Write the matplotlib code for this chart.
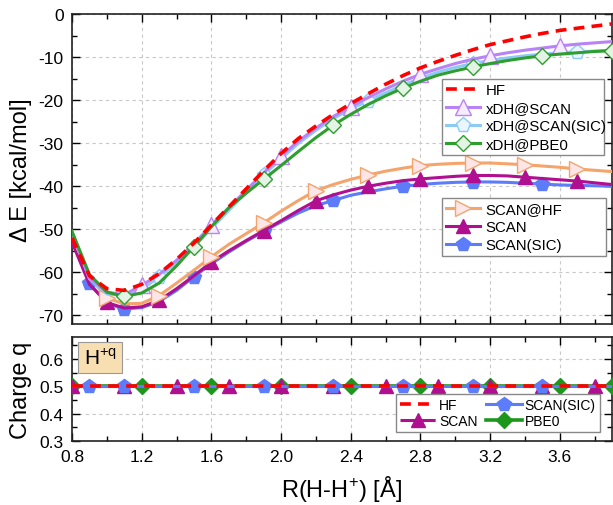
import numpy as np
import matplotlib
matplotlib.use("Agg")
import matplotlib.pyplot as plt
from matplotlib.ticker import MultipleLocator

plt.rcParams['font.family'] = ['Liberation Sans', 'DejaVu Sans']
plt.rcParams['mathtext.fontset'] = 'custom'
plt.rcParams['mathtext.rm'] = 'Liberation Sans'
plt.rcParams['axes.unicode_minus'] = False

# bond distance grid (Angstrom)
R = [0.8, 0.9, 1.0, 1.1, 1.2, 1.3, 1.4, 1.5, 1.6, 1.7, 1.8, 1.9, 2.0, 2.1, 2.2, 2.3,
     2.4, 2.5, 2.6, 2.7, 2.8, 2.9, 3.0, 3.1, 3.2, 3.3, 3.4, 3.5, 3.6, 3.7, 3.8, 3.9]

# binding energies (kcal/mol)
hf = [-52.0, -60.8, -63.8, -64.2, -62.8, -60.3, -57.0, -53.2, -49.0, -44.8, -40.6, -36.4,
      -32.4, -28.9, -26.0, -23.3, -20.8, -18.5, -16.3, -14.3, -12.5, -11.0, -9.6, -8.3,
      -7.1, -6.2, -5.3, -4.5, -3.8, -3.3, -2.8, -2.3]
xdh_scan = [-51.0, -61.3, -64.6, -65.2, -63.0, -60.5, -57.2, -53.4, -49.0, -45.0, -40.9, -36.9,
            -33.0, -29.5, -26.5, -23.8, -21.5, -19.4, -17.4, -15.6, -14.0, -12.7, -11.5, -10.5,
            -9.7, -9.0, -8.4, -7.9, -7.4, -7.0, -6.7, -6.4]
xdh_scan_sic = [-50.5, -61.5, -65.0, -65.5, -64.0, -61.0, -57.7, -54.0, -49.8, -45.6, -41.4, -37.4,
                -33.6, -30.0, -27.0, -24.3, -22.0, -20.2, -18.3, -16.5, -14.9, -13.5, -12.4, -11.5,
                -10.8, -10.2, -9.7, -9.3, -9.0, -8.8, -8.6, -8.4]
xdh_pbe0 = [-50.5, -60.5, -64.6, -65.6, -64.8, -62.5, -58.5, -54.0, -49.4, -45.0, -41.6, -38.4,
            -35.2, -31.9, -28.7, -25.8, -23.3, -21.0, -19.0, -17.2, -15.6, -14.2, -13.2, -12.3,
            -11.5, -10.8, -10.2, -9.7, -9.3, -9.0, -8.7, -8.5]
scan_hf = [-51.5, -61.0, -66.0, -67.3, -67.2, -65.4, -62.5, -59.5, -56.4, -53.5, -51.0, -48.5,
           -45.8, -43.3, -41.0, -39.6, -38.4, -37.4, -36.5, -35.8, -35.2, -34.9, -34.7, -34.6,
           -34.6, -34.8, -35.0, -35.3, -35.6, -36.0, -36.3, -36.6]
scan = [-53.0, -62.8, -67.0, -68.3, -68.0, -66.5, -63.8, -60.8, -57.6, -55.0, -52.6, -50.3,
        -48.0, -45.6, -43.4, -42.0, -40.9, -40.0, -39.3, -38.7, -38.3, -38.0, -37.7, -37.5,
        -37.5, -37.6, -37.9, -38.2, -38.5, -38.8, -39.2, -39.6]
scan_sic = [-52.5, -62.5, -67.2, -68.5, -68.2, -66.8, -64.2, -61.0, -58.0, -55.3, -52.8, -50.5,
            -48.3, -46.2, -44.5, -43.3, -42.1, -41.3, -40.6, -40.0, -39.6, -39.3, -39.1, -39.0,
            -39.0, -39.1, -39.3, -39.5, -39.7, -39.8, -39.9, -40.0]

# charge on H (bottom panel)
q_hf = [0.5] * len(R)
q_scan = [0.5] * len(R)
q_scan_sic = [0.5] * len(R)
q_pbe0 = [0.5] * len(R)

fig = plt.figure(figsize=(6.13, 5.06), dpi=100)
ax1 = fig.add_axes([0.1175, 0.3577, 0.881, 0.6126])
ax2 = fig.add_axes([0.1175, 0.1265, 0.881, 0.2055])

lw = 2.2
ax1.plot(R, scan_sic, color='#5C7CFA', lw=lw, marker='p', ms=10.5, mfc='#5C7CFA', mec='#5C7CFA',
         markevery=[1, 3, 7, 11, 15, 19, 23, 27], label='SCAN(SIC)', zorder=3)
ax1.plot(R, scan, color='#B0108F', lw=lw, marker='^', ms=10, mfc='#B0108F', mec='#B0108F',
         markevery=[2, 5, 8, 11, 14, 17, 20, 23, 26, 29], label='SCAN', zorder=4)
ax1.plot(R, scan_hf, color='#F5A46C', lw=lw, marker='>', ms=11, mfc='#FDE6E8', mec='#F5A46C', mew=1,
         markevery=[2, 5, 8, 11, 14, 17, 20, 23, 26, 29], label='SCAN@HF', zorder=5)
ax1.plot(R, xdh_pbe0, color='#2E9E2E', lw=lw, marker='D', ms=8.5, mfc='#E4F4E4', mec='#2E9E2E', mew=1,
         markevery=[3, 7, 11, 15, 19, 23, 27, 31], label='xDH@PBE0', zorder=6)
ax1.plot(R, xdh_scan_sic, color='#8CCBF5', lw=lw, marker='p', ms=11, mfc='#EAF6FF', mec='#8CCBF5', mew=1,
         markevery=[5, 11, 17, 23, 29], label='xDH@SCAN(SIC)', zorder=5)
ax1.plot(R, xdh_scan, color='#B983F5', lw=lw, marker='^', ms=11, mfc='#F5EDFF', mec='#B983F5', mew=1,
         markevery=[4, 8, 12, 16, 20, 24, 28], label='xDH@SCAN', zorder=5)
ax1.plot(R, hf, color='#FF0000', lw=2.6, ls=(0, (3, 2)), label='HF', zorder=7)

ax2.plot(R, q_pbe0, color='#1E961E', lw=2.6, marker='D', ms=8, mfc='#1E961E', mec='#1E961E',
         markevery=[0, 4, 8, 12, 16, 20, 24, 28, 31], label='PBE0', zorder=3)
ax2.plot(R, q_scan, color='#B0108F', lw=2.2, ls=(0, (5, 1.5)), marker='^', ms=10, mfc='#B0108F',
         mec='#B0108F', markevery=[0, 3, 6, 9, 12, 15, 18, 21, 24, 27, 30], label='SCAN', zorder=4)
ax2.plot(R, q_scan_sic, color='#5C7CFA', lw=2.2, marker='p', ms=10, mfc='#5C7CFA', mec='#5C7CFA',
         markevery=[1, 3, 7, 11, 15, 19, 23, 27], label='SCAN(SIC)', zorder=4)
ax2.plot(R, q_hf, color='#FF0000', lw=2.6, ls=(0, (3, 2)), label='HF', zorder=6)

for ax in (ax1, ax2):
    ax.set_xlim(0.8, 3.9)
    ax.xaxis.set_major_locator(MultipleLocator(0.4))
    ax.xaxis.set_minor_locator(MultipleLocator(0.2))
    ax.grid(True, which='major', color='#C8C8C8', ls=(0, (3, 3)), lw=0.8)
    ax.tick_params(which='both', direction='in', top=True, right=True, labelsize=12.5, pad=6)
    ax.tick_params(which='major', length=6, width=1)
    ax.tick_params(which='minor', length=3.5, width=1)
    for s in ax.spines.values():
        s.set_linewidth(1.2)
        s.set_color('#222222')

ax1.set_ylim(-72, 0)
ax1.yaxis.set_major_locator(MultipleLocator(10))
ax1.yaxis.set_minor_locator(MultipleLocator(5))
ax1.tick_params(axis='x', labelbottom=False)
ax1.set_ylabel('Δ E [kcal/mol]', fontsize=17)
ax1.yaxis.set_label_coords(-0.075, 0.5)

ax2.set_ylim(0.3, 0.68)
ax2.yaxis.set_major_locator(MultipleLocator(0.1))
ax2.yaxis.set_minor_locator(MultipleLocator(0.05))
ax2.set_ylabel('Charge q', fontsize=17)
ax2.yaxis.set_label_coords(-0.075, 0.5)
ax2.set_xlabel('R(H-H$^{+}$) [Å]', fontsize=17)
ax2.xaxis.set_label_coords(0.5, -0.31)

h, l = ax1.get_legend_handles_labels()
d = dict(zip(l, h))
leg_kw = dict(fontsize=10.8, handlelength=2.3, fancybox=False, edgecolor='#888888',
              framealpha=1, borderpad=0.25, labelspacing=0.28, handletextpad=0.35,
              borderaxespad=0.0, mode='expand')
names1 = ['HF', 'xDH@SCAN', 'xDH@SCAN(SIC)', 'xDH@PBE0']
leg1 = ax1.legend([d[k] for k in names1], names1,
                  loc='upper left', bbox_to_anchor=(0.685, 0.545, 0.300, 0.245), **leg_kw)
ax1.add_artist(leg1)
names2 = ['SCAN@HF', 'SCAN', 'SCAN(SIC)']
ax1.legend([d[k] for k in names2], names2,
           loc='upper left', bbox_to_anchor=(0.685, 0.219, 0.303, 0.187), **leg_kw)

h2, l2 = ax2.get_legend_handles_labels()
d2 = dict(zip(l2, h2))
order2 = ['HF', 'SCAN', 'SCAN(SIC)', 'PBE0']
ax2.legend([d2[k] for k in order2], order2, ncol=2, loc='lower right', bbox_to_anchor=(0.99, 0.02),
           fontsize=10, handlelength=2.6, fancybox=False, edgecolor='#888888', framealpha=1,
           borderpad=0.3, labelspacing=0.15, handletextpad=0.2, columnspacing=0.6)

ax2.text(0.052, 0.8, r'H$^{\mathrm{+q}}$', transform=ax2.transAxes, fontsize=15, ha='center', va='center',
         bbox=dict(boxstyle='square,pad=0.25', fc='#F8DFB2', ec='#999999', lw=0.8), zorder=8)

fig.savefig('out.png', dpi=100)
